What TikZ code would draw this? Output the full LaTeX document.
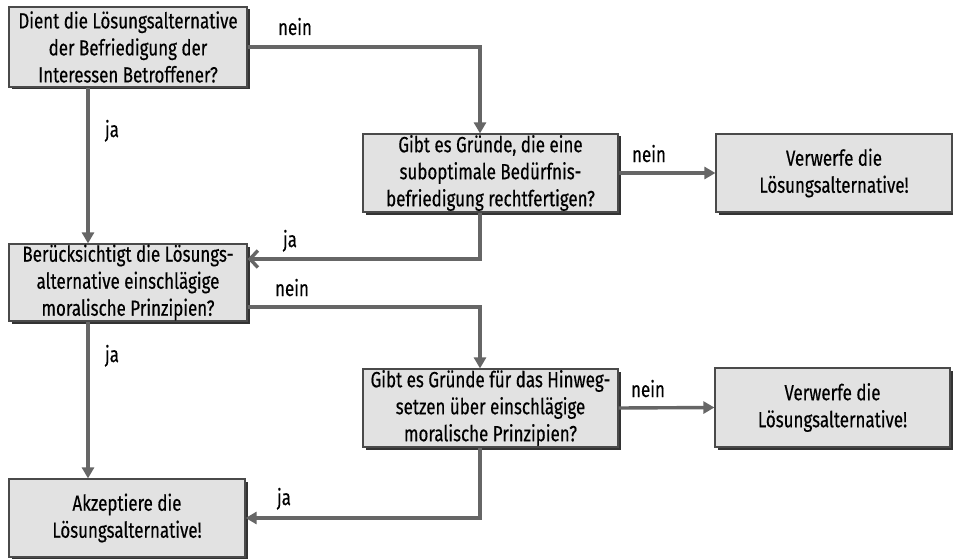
\documentclass[tikz,border=0pt]{standalone}
\usepackage{fontspec}
\setmainfont{Fira Sans}[FakeStretch=0.77,FakeBold=0.4]
\usetikzlibrary{arrows.meta,shadows}
\definecolor{boxfill}{HTML}{E2E2E2}
\definecolor{boxline}{HTML}{4A4A4A}
\definecolor{shadowcol}{HTML}{333333}
\definecolor{linkcol}{HTML}{666666}
\tikzset{
  flowbox/.style={draw=boxline, line width=1.2pt, fill=boxfill,
    drop shadow={shadow xshift=2.5pt, shadow yshift=-2.5pt, fill=shadowcol, opacity=1},
    align=center, inner sep=0pt, text=black,
    font=\fontsize{22}{27}\selectfont},
  link/.style={draw=linkcol, line width=3.4pt},
  filledtip/.style={link, -{Triangle[length=11pt,width=12pt]}},
  opentip/.style={link, -{Straight Barb[length=8pt,width=17pt,line width=3.4pt]}},
  lbl/.style={anchor=base, inner sep=0pt, font=\fontsize{22}{26}\selectfont}
}
\begin{document}
\begin{tikzpicture}[x=1pt,y=-1pt]
\useasboundingbox (0,0) rectangle (953,559);

% question and result boxes
\node[flowbox, minimum width=238pt, minimum height=80pt] (q1) at (128,47)
  {Dient die Lösungsalternative\\der Befriedigung der\\Interessen Betroffener?};
\node[flowbox, minimum width=255pt, minimum height=78pt] (q2) at (490.5,173)
  {Gibt es Gründe, die eine\\suboptimale Bedürfnis-\\befriedigung rechtfertigen?};
\node[flowbox, minimum width=236pt, minimum height=78pt] (r1) at (834,173)
  {Verwerfe die\\Lösungsalternative!};
\node[flowbox, minimum width=238pt, minimum height=77pt] (q3) at (128,282.5)
  {Berücksichtigt die Lösungs-\\alternative einschlägige\\moralische Prinzipien?};
\node[flowbox, minimum width=255pt, minimum height=78pt] (q4) at (490.5,408)
  {Gibt es Gründe für das Hinweg-\\setzen über einschlägige\\moralische Prinzipien?};
\node[flowbox, minimum width=235pt, minimum height=79pt] (r2) at (832.5,407.5)
  {Verwerfe die\\Lösungsalternative!};
\node[flowbox, minimum width=236pt, minimum height=78pt] (ok) at (127,518)
  {Akzeptiere die\\Lösungsalternative!};

% guide coordinates for the connector runs
\coordinate (xl) at (88,0);
\coordinate (xr) at (480,0);
\coordinate (ja1) at (480,259);
\coordinate (ne2) at (480,307);
\coordinate (ja2) at (480,518);

% connectors
\draw[filledtip] (q1.east) -| (q2.north -| xr);
\draw[filledtip] (q2.east) -- (r1.west);
\draw[opentip] (q2.south -| xr) -- (ja1) -- (ja1 -| q3.east);
\draw[filledtip] (q1.south -| xl) -- (q3.north -| xl);
\draw[filledtip] (ne2 -| q3.east) -- (ne2) -- (q4.north -| xr);
\draw[filledtip] (q4.east) -- (r2.west);
\draw[filledtip] (q3.south -| xl) -- (ok.north -| xl);
\draw[filledtip] (q4.south -| xr) -- (ja2) -- (ok.east);

% branch labels
\node[lbl] (n1) at (295,35) {nein};
\node[lbl] (j1) at (112,137) {ja};
\node[lbl] (n2) at (649,162) {nein};
\node[lbl] (j2) at (290,247) {ja};
\node[lbl] (n3) at (292,296) {nein};
\node[lbl] (j3) at (112,362) {ja};
\node[lbl] (n4) at (648,397) {nein};
\node[lbl] (j4) at (284,505) {ja};
\end{tikzpicture}
\end{document}
